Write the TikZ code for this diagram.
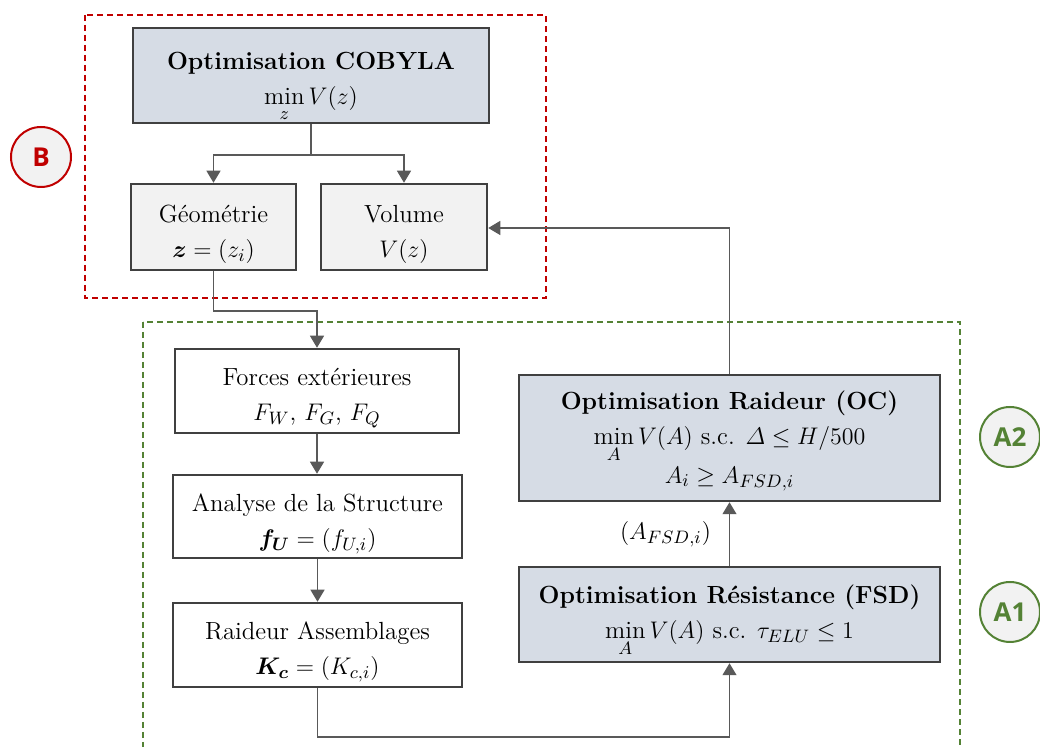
\documentclass[tikz,border=0pt]{standalone}
\usepackage{amsmath,amssymb,bm}
\usepackage{fontspec}
\newfontfamily\lblfont{Open Sans}
\usetikzlibrary{arrows.meta,calc}
\definecolor{boxblue}{HTML}{D6DCE5}
\definecolor{boxgray}{HTML}{F2F2F2}
\definecolor{bordc}{HTML}{404040}
\definecolor{connc}{HTML}{595959}
\definecolor{redc}{HTML}{C00000}
\definecolor{greenc}{HTML}{548235}
\newcommand{\topstr}{\rule{0pt}{16pt}}
\begin{document}
\begin{tikzpicture}[x=0.5pt,y=-0.5pt,
  box/.style={draw=bordc,line width=1.25pt,align=center,inner sep=0pt,
    font=\fontsize{12.4}{17.5}\selectfont},
  optbox/.style={box,fill=boxblue},
  graybox/.style={box,fill=boxgray},
  whitebox/.style={box,fill=white},
  arr/.style={draw=connc,line width=0.6pt,-{Triangle[width=7pt,length=6pt]}},
  conn/.style={draw=connc,line width=0.6pt},
  badge/.style={circle,line width=1pt,fill=boxgray,minimum size=30pt,inner sep=0pt,
    font=\lblfont\bfseries\fontsize{13}{13}\selectfont}
]
\useasboundingbox (0,0) rectangle (1040,747);
% groups
\draw[redc,line width=0.8pt,dash pattern=on 3pt off 2pt] (85,15) rectangle (546,298);
\draw[greenc,line width=0.8pt,dash pattern=on 3pt off 2pt] (143,322) rectangle (960,770);
% badges
\node[badge,draw=redc,text=redc] (bB) at (41,157) {B};
\node[badge,draw=greenc,text=greenc] (bA2) at (1010,437) {A2};
\node[badge,draw=greenc,text=greenc] (bA1) at (1010,612) {A1};
% boxes
\node[optbox,minimum width=178pt,minimum height=47.5pt] (cob) at (311,75.5)
  {\rule{0pt}{12pt}\textbf{Optimisation COBYLA}\\ \smash{$\min\limits_{z} V(z)$}};
\node[graybox,minimum width=82.5pt,minimum height=43pt] (geo) at (213.5,227)
  {\topstr G\'eom\'etrie\\ $\bm{z}=(z_i)$};
\node[graybox,minimum width=83pt,minimum height=43pt] (vol) at (404,227)
  {\topstr Volume\\ $V(z)$};
\node[whitebox,minimum width=142pt,minimum height=42pt] (forces) at (317,391)
  {\topstr Forces ext\'erieures\\ $F_W$, $F_G$, $F_Q$};
\node[whitebox,minimum width=144.5pt,minimum height=41.5pt] (ana) at (317.5,516.5)
  {\topstr Analyse de la Structure\\ $\bm{f}_{\bm{U}}=(f_{U,i})$};
\node[whitebox,minimum width=144.5pt,minimum height=42pt] (rai) at (317.5,645)
  {\topstr Raideur Assemblages\\ $\bm{K}_{\bm{c}}=(K_{c,i})$};
\node[optbox,minimum width=210.5pt,minimum height=63pt] (oc) at (729.5,438)
  {\rule{0pt}{12pt}\textbf{Optimisation Raideur (OC)}\\ $\min\limits_{A} V(A)$ s.c. $\varDelta\le H/500$\\[1pt] $A_i\ge A_{FSD,i}$};
\node[optbox,minimum width=210.5pt,minimum height=47.5pt] (fsd) at (729.5,614.5)
  {\textbf{Optimisation R\'esistance (FSD)}\\ \smash{$\min\limits_{A} V(A)$ s.c. $\tau_{ELU}\le 1$}\rule[-3pt]{0pt}{3pt}};
% connectors
\coordinate (sp) at (311,155);
\draw[conn] (cob.south) -- (sp);
\draw[arr] (sp) -| (geo.north);
\draw[arr] (sp) -| (vol.north);
\coordinate (g1) at (213.5,311);
\draw[arr] (geo.south) -- (g1) -| (forces.north);
\draw[arr] (forces.south) -- (forces.south |- ana.north);
\draw[arr] (ana.south) -- (ana.south |- rai.north);
\coordinate (r1) at (317.5,737);
\draw[arr] (rai.south) -- (r1) -| (fsd.south);
\draw[arr] (fsd.north) -- (oc.south)
  node[midway,left=9pt,inner sep=0pt,font=\fontsize{12.4}{15}\selectfont] (lbl) {$(A_{FSD,i})$};
\coordinate (o1) at (729.5,228);
\draw[arr] (oc.north) -- (o1) -- (vol.east |- o1);
\end{tikzpicture}
\end{document}
